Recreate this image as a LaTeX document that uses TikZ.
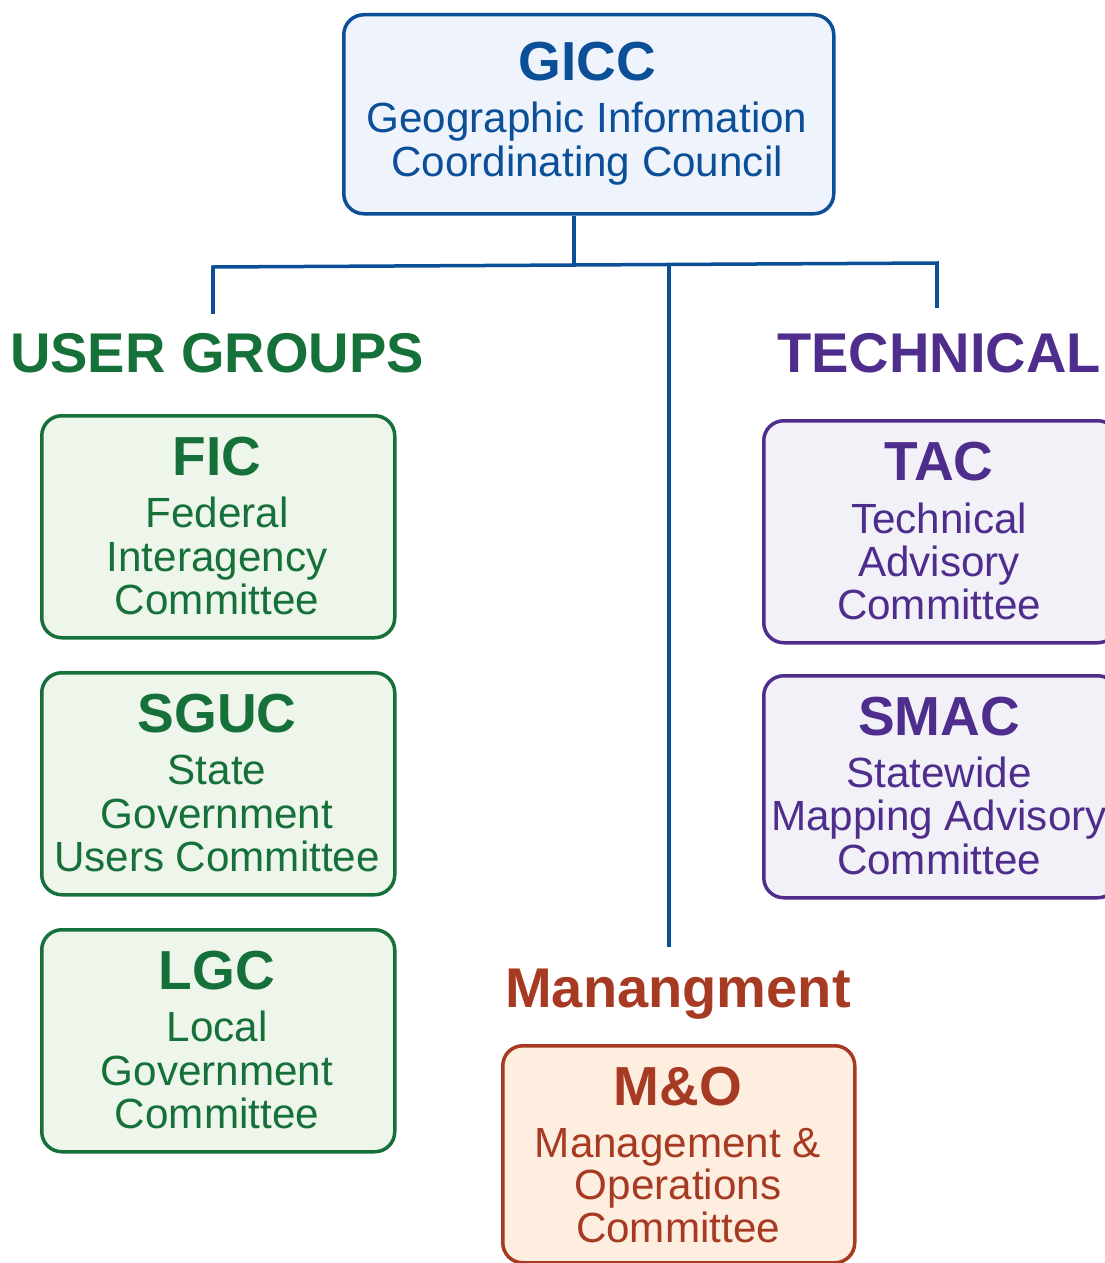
\documentclass[tikz,border=0pt]{standalone}
\usepackage{fontspec}
\setmainfont{Liberation Sans}
\definecolor{gblue}{HTML}{0B4F98}
\definecolor{ggreen}{HTML}{16703A}
\definecolor{gpurple}{HTML}{4E2D8C}
\definecolor{gbrown}{HTML}{A63A22}
\definecolor{fblue}{HTML}{EFF3FC}
\definecolor{fgreen}{HTML}{EEF5EA}
\definecolor{fpurple}{HTML}{F2F1F8}
\definecolor{fbrown}{HTML}{FDEEE0}
\tikzset{
  x=1pt, y=-1pt,
  panel/.style={draw, line width=3.5pt, rounded corners=20pt, inner sep=0pt},
  bluebox/.style={panel, draw=gblue, fill=fblue},
  greenbox/.style={panel, draw=ggreen, fill=fgreen},
  purplebox/.style={panel, draw=gpurple, fill=fpurple},
  brownbox/.style={panel, draw=gbrown, fill=fbrown},
  ttl/.style={anchor=base, inner sep=0pt, font=\fontsize{55}{60}\selectfont\bfseries},
  sub/.style={anchor=base, inner sep=0pt, font=\fontsize{42.2}{44}\selectfont},
  heading/.style={anchor=base, inner sep=0pt, font=\fontsize{56}{60}\selectfont\bfseries},
  link/.style={draw=gblue, line width=3.5pt},
}
\begin{document}
\begin{tikzpicture}
\useasboundingbox (0,0) rectangle (1105,1263);
\clip (0,0) rectangle (1105,1263);

% ---------- council ----------
\node[bluebox, minimum width=490pt, minimum height=199pt, anchor=north west] (gicc) at (342,13) {};
\node[ttl, text=gblue] (gicc-t) at (587,81) {GICC};
\node[sub, text=gblue] (gicc-a) at (587,132) {Geographic Information};
\node[sub, text=gblue] (gicc-b) at (587,176) {Coordinating Council};

% ---------- group headings ----------
\node[heading, text=ggreen] (ug) at (217,372) {USER GROUPS};
\node[heading, text=gpurple] (tech) at (939,372) {TECHNICAL};
\node[heading, text=gbrown] (mgmt) at (678,1007) {Manangment};

% ---------- user groups ----------
\node[greenbox, minimum width=353pt, minimum height=222pt, anchor=north west] (fic) at (40,414) {};
\node[ttl, text=ggreen] (fic-t) at (217,475) {FIC};
\node[sub, text=ggreen] (fic-a) at (217,527) {Federal};
\node[sub, text=ggreen] (fic-b) at (217,571) {Interagency};
\node[sub, text=ggreen] (fic-c) at (217,614) {Committee};

\node[greenbox, minimum width=353pt, minimum height=222pt, anchor=north west] (sguc) at (40,671) {};
\node[ttl, text=ggreen] (sguc-t) at (217,732) {SGUC};
\node[sub, text=ggreen] (sguc-a) at (217,784) {State};
\node[sub, text=ggreen] (sguc-b) at (217,828) {Government};
\node[sub, text=ggreen] (sguc-c) at (217,871) {Users Committee};

\node[greenbox, minimum width=353pt, minimum height=222pt, anchor=north west] (lgc) at (40,928) {};
\node[ttl, text=ggreen] (lgc-t) at (217,989) {LGC};
\node[sub, text=ggreen] (lgc-a) at (217,1041) {Local};
\node[sub, text=ggreen] (lgc-b) at (217,1085) {Government};
\node[sub, text=ggreen] (lgc-c) at (217,1128) {Committee};

% ---------- technical ----------
\node[purplebox, minimum width=354pt, minimum height=222pt, anchor=north west] (tac) at (762,419) {};
\node[ttl, text=gpurple] (tac-t) at (939,480) {TAC};
\node[sub, text=gpurple] (tac-a) at (939,533) {Technical};
\node[sub, text=gpurple] (tac-b) at (939,576) {Advisory};
\node[sub, text=gpurple] (tac-c) at (939,619) {Committee};

\node[purplebox, minimum width=354pt, minimum height=222pt, anchor=north west] (smac) at (762,674) {};
\node[ttl, text=gpurple] (smac-t) at (939,735) {SMAC};
\node[sub, text=gpurple] (smac-a) at (939,787) {Statewide};
\node[sub, text=gpurple] (smac-b) at (939,830) {Mapping Advisory};
\node[sub, text=gpurple] (smac-c) at (939,874) {Committee};

% ---------- management ----------
\node[brownbox, minimum width=352pt, minimum height=217pt, anchor=north west] (mo) at (501,1044) {};
\node[ttl, text=gbrown] (mo-t) at (678,1105) {M\&O};
\node[sub, text=gbrown] (mo-a) at (678,1157) {Management \&};
\node[sub, text=gbrown] (mo-b) at (678,1199) {Operations};
\node[sub, text=gbrown] (mo-c) at (678,1242) {Committee};

% ---------- connectors ----------
\coordinate (jl) at (213,267);
\coordinate (jc) at (574,265.2);
\coordinate (jm) at (669,264.7);
\coordinate (jr) at (937,263);
\coordinate (ugend) at (213,314);
\coordinate (techend) at (937,308);
\coordinate (mgmtend) at (669,947);
\draw[link] (gicc.south -| jc) -- (jc);
\draw[link, line cap=rect] (jl) -- (jr);
\draw[link] (jl) -- (ugend);
\draw[link] (jr) -- (techend);
\draw[link] (jm) -- (mgmtend);
\end{tikzpicture}
\end{document}
